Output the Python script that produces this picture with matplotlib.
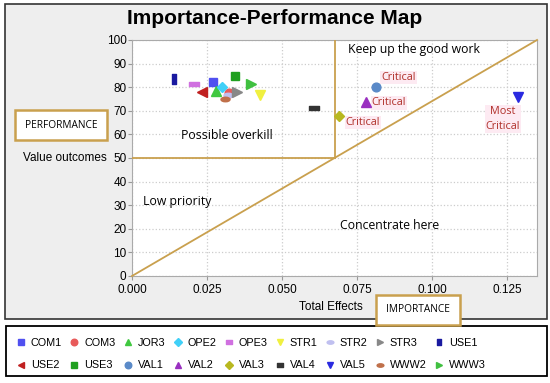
import numpy as np
import matplotlib
matplotlib.use('Agg')
import matplotlib.pyplot as plt
from matplotlib.patches import Rectangle
from matplotlib.path import Path
from matplotlib.transforms import Affine2D

# constructs (total effects = importance, performance)
names = ['COM1', 'COM3', 'JOR3', 'OPE2', 'OPE3', 'STR1', 'STR2', 'STR3', 'USE1',
         'USE2', 'USE3', 'VAL1', 'VAL2', 'VAL3', 'VAL4', 'VAL5', 'WWW2', 'WWW3']
importance = [0.0271, 0.0324, 0.0279, 0.0300, 0.0208, 0.0427, 0.0320, 0.0351, 0.0140,
              0.0232, 0.0343, 0.0812, 0.0780, 0.0691, 0.0607, 0.1288, 0.0311, 0.0397]
performance = [82.2, 77.4, 78.3, 80.0, 81.5, 76.6, 76.5, 78.1, 83.3,
               78.0, 84.9, 80.1, 73.7, 67.9, 71.3, 76.0, 75.0, 81.2]
colors = ['#5050f0', '#e85a5a', '#40c840', '#40d0f8', '#d070e0', '#f0f040', '#c0c0f0',
          '#888888', '#1a1aa0', '#c02020', '#20a020', '#5a8ac8', '#9a30c0', '#b8b820',
          '#333333', '#2a2ae0', '#c0704a', '#40c040']

# JFreeChart-style shape cycle
hrect = Path([(-1, -0.5), (1, -0.5), (1, 0.5), (-1, 0.5), (-1, -0.5)], closed=True)
vrect = Path([(-0.5, -1), (0.5, -1), (0.5, 1), (-0.5, 1), (-0.5, -1)], closed=True)
hell = Path.unit_circle().transformed(Affine2D().scale(1, 0.5))
shapes = ['s', 'o', '^', 'D', hrect, 'v', hell, '>', vrect, '<']
sizes = [6.3, 6.3, 6.5, 5.5, 6.5, 6.5, 6.5, 6.5, 6.5, 6.5]

xticks = [0.0, 0.025, 0.05, 0.075, 0.1, 0.125]
xtick_labels = ['0.000', '0.025', '0.050', '0.075', '0.100', '0.125']
yticks = list(range(0, 101, 10))

gold = '#c9a04e'
crit_red = '#b0302a'

fig = plt.figure(figsize=(5.5, 3.83), dpi=100)
fig.patch.set_facecolor('white')
fig.patches.append(Rectangle((0.009, 0.168), 0.986, 0.822, transform=fig.transFigure,
                             facecolor='#eeeeee', edgecolor='#333333', lw=1.2, zorder=-5))
# legend frame drawn separately so it spans the full width
fig.patches.append(Rectangle((6 / 550, 1 - 376 / 383), 541 / 550, 50 / 383,
                             transform=fig.transFigure, facecolor='white',
                             edgecolor='black', lw=1.3, zorder=-5))

ax = fig.add_axes([0.24, 0.2794, 0.7364, 0.6162])
ax.set_facecolor('white')
ax.set_xlim(0, 0.135)
ax.set_ylim(0, 100)
ax.set_xticks(xticks)
ax.set_xticklabels(xtick_labels)
ax.set_yticks(yticks)
ax.tick_params(labelsize=8.5, length=3, color='#999999', pad=1)
ax.tick_params(axis='x', pad=3)
for lab in ax.get_xticklabels() + ax.get_yticklabels():
    lab.set_family('Liberation Sans')
ax.grid(True, color='#cccccc', ls=':', lw=0.9)
for s in ax.spines.values():
    s.set_color('#aaaaaa')

handles = []
for i, n in enumerate(names):
    h, = ax.plot(importance[i], performance[i], ls='', marker=shapes[i % 10],
                 ms=sizes[i % 10], color=colors[i], mec=colors[i], label=n, zorder=5)
    handles.append(h)

# quadrant overlay
ax.plot([0, 0.0675], [50, 50], color=gold, lw=1.3, zorder=3)
ax.plot([0.0675, 0.0675], [50, 100], color=gold, lw=1.3, zorder=3)
ax.plot([0, 0.135], [0, 100], color=gold, lw=1.3, zorder=3, clip_on=False)

zone_font = dict(family=['Open Sans', 'DejaVu Sans'], fontsize=8.8, color='black')
ax.text(0.094, 95.8, 'Keep up the good work', ha='center', va='center', **zone_font)
ax.text(0.0315, 59.4, 'Possible overkill', ha='center', va='center', **zone_font)
ax.text(0.0037, 31.5, 'Low priority', ha='left', va='center', **zone_font)
ax.text(0.0857, 21.6, 'Concentrate here', ha='center', va='center', **zone_font)

crit_font = dict(family=['Open Sans', 'DejaVu Sans'], fontsize=7.8, color=crit_red,
                 bbox=dict(boxstyle='square,pad=0.1', fc='#fdeaf2', ec='none'))
ax.text(0.0888, 84.0, 'Critical', ha='center', va='center', **crit_font)
ax.text(0.0857, 73.3, 'Critical', ha='center', va='center', **crit_font)
ax.text(0.0770, 65.1, 'Critical', ha='center', va='center', **crit_font)
ax.text(0.1237, 66.5, 'Most\nCritical', ha='center', va='center', linespacing=1.4,
        **crit_font)

fig.text(0.5, 0.953, 'Importance-Performance Map', ha='center', va='center',
         fontsize=15, fontweight='bold', family='Liberation Sans')

box_font = dict(family=['Open Sans', 'DejaVu Sans'], fontsize=7.3, color='black',
                bbox=dict(boxstyle='square,pad=0.95', fc='white', ec=gold, lw=1.8))
fig.text(61 / 550, 1 - 125 / 383, 'PERFORMANCE', ha='center', va='center', **box_font)
fig.text(418 / 550, 1 - 310 / 383, 'IMPORTANCE', ha='center', va='center', **box_font)
fig.text(65 / 550, 1 - 158 / 383, 'Value outcomes', ha='center', va='center',
         fontsize=8.5, family='Liberation Sans')
fig.text(331 / 550, 1 - 307 / 383, 'Total Effects', ha='center', va='center',
         fontsize=8.5, family='Liberation Sans')

# legend fills columns first, so reorder for row-major reading
order = [r * 9 + c for c in range(9) for r in range(2)]
leg = fig.legend(handles=[handles[k] for k in order], ncol=9, loc='center left',
                 bbox_to_anchor=(8 / 550, 1 - 354 / 383),
                 frameon=False, prop={'family': 'Liberation Sans', 'size': 7.8},
                 handlelength=0.8, handletextpad=0.5, columnspacing=0.75,
                 labelspacing=1.2, borderpad=0.3, markerscale=0.75)

fig.savefig('out.png', dpi=100)
